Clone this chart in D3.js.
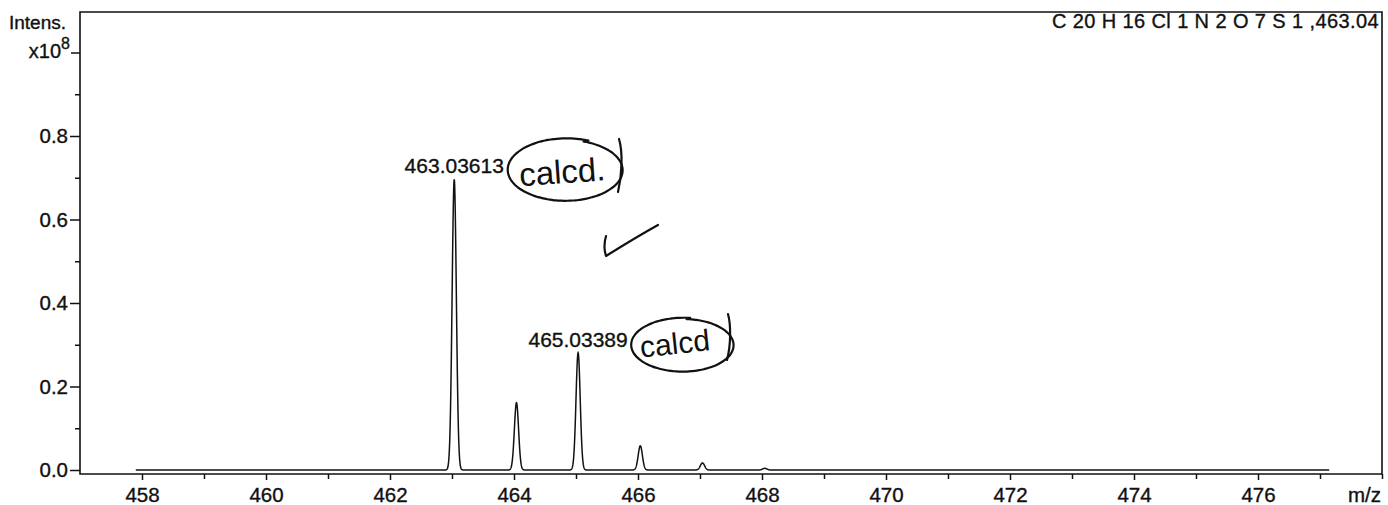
<!DOCTYPE html>
<html>
<head>
<meta charset="utf-8">
<script src="https://cdn.jsdelivr.net/npm/d3@7"></script>
<style>
  html, body { margin: 0; padding: 0; background: #fff; }
  svg { display: block; }
  text { font-family: "Liberation Sans", Arial, sans-serif; fill: #111; }
  .print { stroke: #111; stroke-width: 0.35; }
</style>
</head>
<body>
<svg id="chart" width="1388" height="505"></svg>
<script>
// Isotope pattern peaks (m/z, intensity in units of 1e8)
const peakMz        = [463.036, 464.040, 465.034, 466.037, 467.040, 468.045];
const peakIntensity = [0.696,   0.161,   0.281,   0.058,   0.017,   0.004];

// Peaks that carry an m/z annotation
const labelMz     = [463.03613, 465.03389];
const labelHeight = [0.696, 0.281];

// Axis ticks
const xMajorTicks = [458, 460, 462, 464, 466, 468, 470, 472, 474, 476];
const xMinorTicks = [459, 461, 463, 465, 467, 469, 471, 473, 475, 477];
const yMajorTicks = [0.0, 0.2, 0.4, 0.6, 0.8];
const yMinorTicks = [0.1, 0.3, 0.5, 0.7, 0.9];

const formulaText = "C 20 H 16 Cl 1 N 2 O 7 S 1  ,463.04";
const traceRange = [457.9, 477.15];

const svg = d3.select("#chart");
const plotL = 80, plotR = 1382, plotT = 12, plotB = 474;

const x = d3.scaleLinear().domain([457, 478]).range([plotL, plotR]);
const y = d3.scaleLinear().domain([0, 1]).range([470, 52.5]);

// Profile trace: each peak rendered as a narrow Gaussian line shape
const sigma = 0.034;
const profile = d3.range(traceRange[0], traceRange[1], 0.003).map(m => {
  let v = 0;
  peakMz.forEach((c, i) => {
    const d = m - c;
    if (Math.abs(d) < 0.3) v += peakIntensity[i] * Math.exp(-d * d / (2 * sigma * sigma));
  });
  return [m, v];
});

svg.append("path")
  .datum(profile)
  .attr("fill", "none")
  .attr("stroke", "#111")
  .attr("stroke-width", 1.5)
  .attr("d", d3.line().x(d => x(d[0])).y(d => y(d[1])));

// Frame
svg.append("path")
  .attr("d", `M${plotL},${plotB}H${plotR}V${plotT}H${plotL}Z`)
  .attr("fill", "none").attr("stroke", "#111").attr("stroke-width", 1.6);

// X axis
const gx = svg.append("g").attr("transform", `translate(0,${plotB})`);
gx.call(d3.axisBottom(x).tickValues(xMajorTicks).tickSize(6).tickPadding(7)
  .tickFormat(d3.format("d")));
gx.append("g").call(d3.axisBottom(x).tickValues(xMinorTicks.concat([478])).tickSize(5).tickFormat(""));
gx.selectAll(".domain").remove();
gx.selectAll("line").attr("stroke", "#111").attr("stroke-width", 1.5);
gx.selectAll("text").attr("font-size", 20.5).attr("fill", "#111").attr("class", "print")
  .style("font-family", "'Liberation Sans', Arial, sans-serif");

svg.append("text").attr("class", "print").attr("x", 1381).attr("y", 502).attr("text-anchor", "end")
  .attr("font-size", 20.5).text("m/z");

// Y axis
const gy = svg.append("g").attr("transform", `translate(${plotL},0)`);
gy.call(d3.axisLeft(y).tickValues(yMajorTicks).tickSize(10).tickPadding(2)
  .tickFormat(d3.format(".1f")));
gy.append("g").call(d3.axisLeft(y).tickValues([1.0]).tickSize(9).tickFormat(""));
gy.append("g").call(d3.axisLeft(y).tickValues(yMinorTicks).tickSize(5).tickFormat(""));
gy.selectAll(".domain").remove();
gy.selectAll("line").attr("stroke", "#111").attr("stroke-width", 1.5);
gy.selectAll("text").attr("font-size", 20.5).attr("fill", "#111").attr("class", "print")
  .style("font-family", "'Liberation Sans', Arial, sans-serif");

// Intensity unit label
svg.append("text").attr("class", "print").attr("x", 66).attr("y", 29).attr("text-anchor", "end")
  .attr("font-size", 19).text("Intens.");
const unit = svg.append("text").attr("class", "print").attr("x", 70).attr("y", 58).attr("text-anchor", "end")
  .attr("font-size", 20);
unit.append("tspan").text("x10");
unit.append("tspan").attr("dy", -9).attr("font-size", 16).text("8");

// Formula
svg.append("text").attr("class", "print").attr("x", 1379).attr("y", 28).attr("text-anchor", "end")
  .attr("font-size", 20).attr("letter-spacing", 0.4).text(formulaText);

// Peak m/z labels
svg.selectAll(".peak-label").data(labelMz).join("text")
  .attr("class", "peak-label print")
  .attr("x", d => x(d))
  .attr("y", (d, i) => y(labelHeight[i]) - 6)
  .attr("text-anchor", "middle")
  .attr("font-size", 21)
  .text(d => d.toFixed(5));

// Pen annotations
const ink = svg.append("g").attr("stroke", "#111").attr("fill", "none")
  .attr("stroke-width", 2.2).attr("stroke-linecap", "round").attr("stroke-linejoin", "round");

function loop(cx, cy, rx, ry, a0, a1, grow) {
  const pts = d3.range(a0, a1, 0.05).map((a, i, arr) => {
    const k = 1 + grow * (i / arr.length);
    return [cx + rx * k * Math.cos(a), cy + ry * k * Math.sin(a)];
  });
  return d3.line().curve(d3.curveBasis)(pts);
}
ink.append("path").attr("d", loop(566, 170, 56, 30, -1.25, 5.15, 0.06));
ink.append("path").attr("d", "M619,139 C623,152 622,175 618,192");
ink.append("path").attr("d", loop(683, 345, 50, 26, -1.5, 4.9, 0.05));
ink.append("path").attr("d", "M728,314 C731,325 731,345 727,360");
ink.append("path").attr("d", "M606,236 C604,243 604,250 606,256 C622,246 640,235 658,225");

svg.append("text").attr("x", 519).attr("y", 183).attr("font-size", 33)
  .attr("font-family", "'DejaVu Sans', sans-serif").attr("fill", "#111")
  .attr("transform", "rotate(-4,566,170)").text("calcd.");
svg.append("text").attr("x", 640).attr("y", 353).attr("font-size", 30)
  .attr("font-family", "'DejaVu Sans', sans-serif").attr("fill", "#111")
  .attr("transform", "rotate(-6,683,345)").text("calcd");
</script>
</body>
</html>
